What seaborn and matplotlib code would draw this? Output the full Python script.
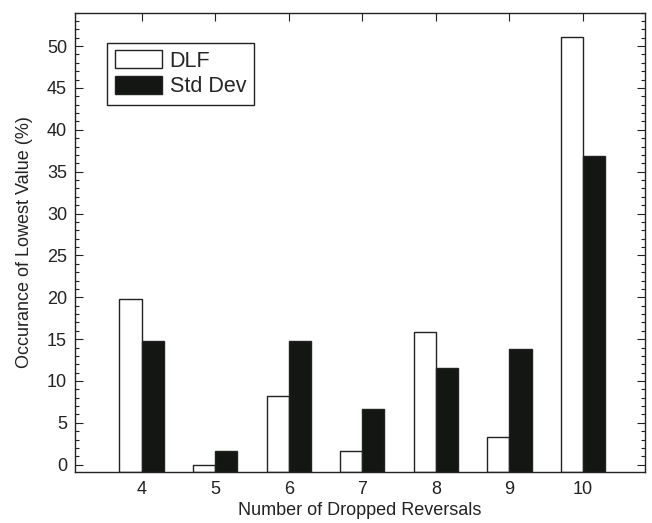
import matplotlib
matplotlib.use("Agg")
import matplotlib.pyplot as plt
from matplotlib.ticker import MultipleLocator
from matplotlib.patches import Patch
import seaborn as sns
import pandas as pd

reversals = [4, 5, 6, 7, 8, 9, 10]
dlf = [19.8, 0.0, 8.2, 1.6, 15.9, 3.3, 51.1]
std_dev = [14.8, 1.6, 14.8, 6.6, 11.5, 13.8, 36.9]
series_names = ["DLF", "Std Dev"]
colors = {"DLF": "white", "Std Dev": "#141614"}
y_min, y_max = -0.9, 54.0

df = pd.DataFrame({
    "Reversals": reversals * 2,
    "Value": dlf + std_dev,
    "Series": [series_names[0]] * len(dlf) + [series_names[1]] * len(std_dev),
})
df["Height"] = df["Value"] - y_min

sns.set_theme(style="ticks")
plt.rcParams["font.family"] = ["Liberation Sans", "DejaVu Sans"]

fig = plt.figure(figsize=(6.52, 5.23), dpi=100)
ax = fig.add_axes([0.1155, 0.097, 0.8735, 0.879])

sns.barplot(data=df, x="Reversals", y="Height", hue="Series", native_scale=True,
            palette=colors, width=0.6, legend=False,
            errorbar=None, bottom=y_min, edgecolor="#222222", linewidth=1.0,
            ax=ax)

ax.set_xlim(3.1, 10.84)
ax.set_ylim(y_min, y_max)
ax.set_xticks(reversals)
ax.set_xticklabels([str(r) for r in reversals])
ax.yaxis.set_major_locator(MultipleLocator(5))
ax.yaxis.set_minor_locator(MultipleLocator(1))
ax.tick_params(axis="both", which="both", direction="in", top=True, right=True,
               labelsize=13, colors="#222222", labelcolor="#222222")
ax.tick_params(axis="both", which="major", length=6, width=0.8, pad=6)
ax.tick_params(axis="both", which="minor", length=3, width=0.8)
ax.tick_params(axis="x", which="minor", bottom=False, top=False)
for s in ax.spines.values():
    s.set_color("#222222")
    s.set_linewidth(1.0)

ax.set_xlabel("Number of Dropped Reversals", fontsize=13, color="#222222", labelpad=3)
ax.set_ylabel("Occurance of Lowest Value (%)", fontsize=13, color="#222222", labelpad=10)

handles = [Patch(facecolor=colors[n], edgecolor="#222222", linewidth=1.0, label=n)
           for n in series_names]
leg = ax.legend(handles=handles, loc="upper left", bbox_to_anchor=(0.056, 0.934),
                borderaxespad=0, fontsize=15.5, frameon=True, fancybox=False,
                edgecolor="#222222", handlelength=2.2, handleheight=0.9,
                borderpad=0.35, labelspacing=0.2, handletextpad=0.35, framealpha=1)
leg.get_frame().set_linewidth(1.0)

fig.savefig("out.png", dpi=100)
